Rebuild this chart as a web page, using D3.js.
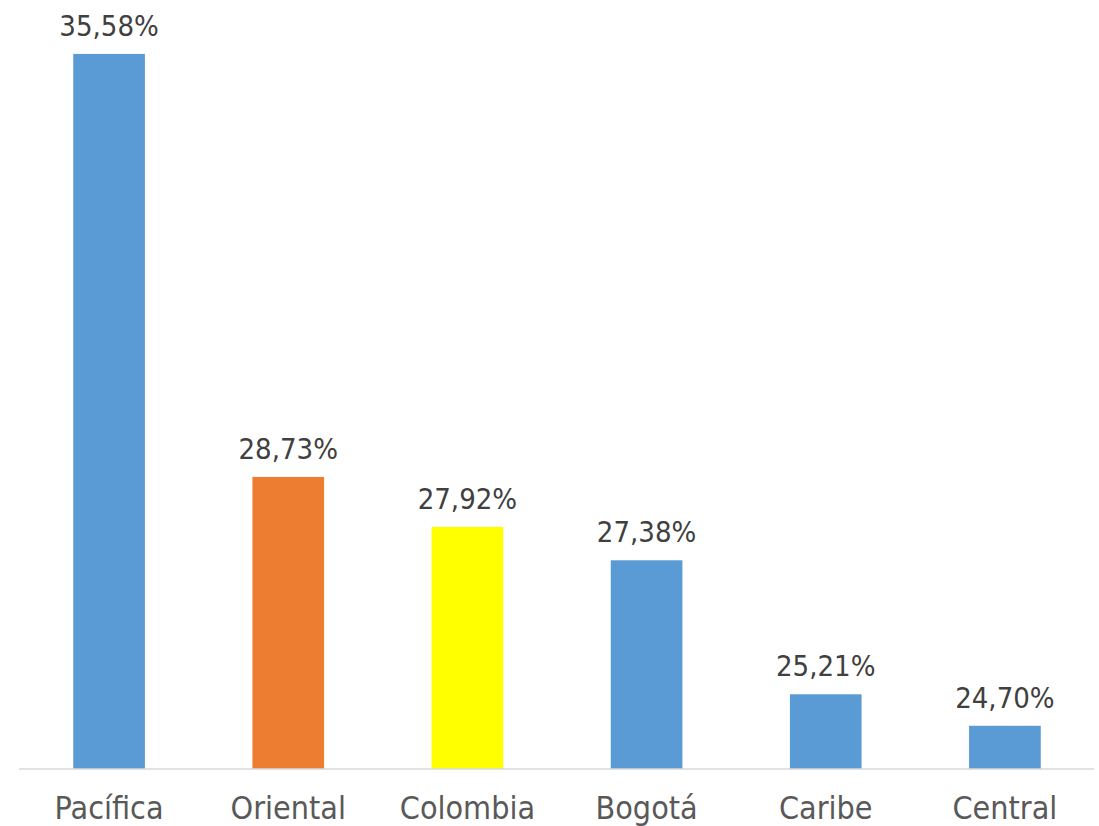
<!DOCTYPE html>
<html><head><meta charset="utf-8">
<script src="https://cdn.jsdelivr.net/npm/d3@7"></script>
<style>body{margin:0;background:#fff;} text{font-family:"DejaVu Sans Condensed",sans-serif;}</style>
</head><body><svg id="c" width="1099" height="826"></svg>
<script>
const categories = ["Pacífica","Oriental","Colombia","Bogotá","Caribe","Central"];
const values = [35.58, 28.73, 27.92, 27.38, 25.21, 24.70];
const colors = ["#5b9bd5","#ed7d31","#ffff00","#5b9bd5","#5b9bd5","#5b9bd5"];
const yDomain = [24, 36];

const svg = d3.select("#c");
const x = d3.scaleBand().domain(categories).range([19.5, 1094.5]).paddingInner(0.6).paddingOuter(0.3);
const y = d3.scaleLinear().domain(yDomain).range([769, 28]);
const fmt = v => d3.format(".2f")(v).replace(".", ",") + "%";

svg.selectAll("rect.bar").data(values).join("rect")
  .attr("x", (d,i)=>x(categories[i])).attr("width", x.bandwidth())
  .attr("y", d=>y(d)).attr("height", d=>y(yDomain[0])-y(d))
  .attr("fill", (d,i)=>colors[i]);

svg.append("line").attr("x1",19).attr("x2",1094).attr("y1",769).attr("y2",769)
  .attr("stroke","#d9d9d9").attr("stroke-width",1.5);

svg.selectAll("text.val").data(values).join("text")
  .attr("x",(d,i)=>x(categories[i])+x.bandwidth()/2).attr("y",d=>y(d)-18)
  .attr("text-anchor","middle").attr("font-size",29).attr("fill","#404040").text(fmt);

const ax = svg.append("g").attr("transform","translate(0,769)")
  .call(d3.axisBottom(x).tickSize(0).tickPadding(0));
ax.select(".domain").remove();
ax.selectAll("text").attr("y",50).attr("dy",0).attr("font-size",32).attr("fill","#595959")
  .style("font-family",'"DejaVu Sans Condensed",sans-serif');
</script></body></html>
